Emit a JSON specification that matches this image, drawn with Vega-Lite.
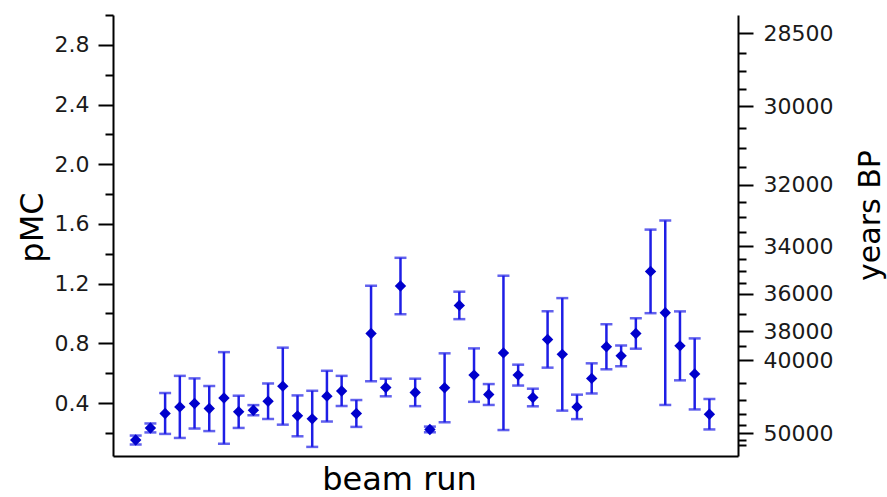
{
  "$schema": "https://vega.github.io/schema/vega-lite/v6.json",
  "width": 625,
  "height": 441,
  "autosize": {"type": "none"},
  "padding": {"left": 113, "top": 15, "right": 149, "bottom": 41},
  "background": "white",
  "config": {
    "view": {"stroke": null},
    "font": "DejaVu Sans",
    "axis": {"grid": false, "domainColor": "black", "domainWidth": 2, "tickColor": "black", "tickWidth": 2, "labelColor": "#1a1a1a", "labelFont": "DejaVu Sans", "labelFontSize": 22, "titleFont": "DejaVu Sans", "titleFontWeight": "normal", "titleColor": "black", "labelOverlap": false, "labelFlush": false, "labelBound": false}
  },
  "data": {
    "values": [
      {"run": 1, "pmc": 0.152, "err": 0.030},
      {"run": 2, "pmc": 0.233, "err": 0.030},
      {"run": 3, "pmc": 0.330, "err": 0.137},
      {"run": 4, "pmc": 0.374, "err": 0.208},
      {"run": 5, "pmc": 0.397, "err": 0.168},
      {"run": 6, "pmc": 0.363, "err": 0.151},
      {"run": 7, "pmc": 0.434, "err": 0.307},
      {"run": 8, "pmc": 0.341, "err": 0.108},
      {"run": 9, "pmc": 0.352, "err": 0.034},
      {"run": 10, "pmc": 0.412, "err": 0.119},
      {"run": 11, "pmc": 0.513, "err": 0.258},
      {"run": 12, "pmc": 0.314, "err": 0.137},
      {"run": 13, "pmc": 0.294, "err": 0.188},
      {"run": 14, "pmc": 0.446, "err": 0.170},
      {"run": 15, "pmc": 0.481, "err": 0.101},
      {"run": 16, "pmc": 0.330, "err": 0.090},
      {"run": 17, "pmc": 0.866, "err": 0.320},
      {"run": 18, "pmc": 0.504, "err": 0.059},
      {"run": 19, "pmc": 1.184, "err": 0.189},
      {"run": 20, "pmc": 0.471, "err": 0.092},
      {"run": 21, "pmc": 0.223, "err": 0.019},
      {"run": 22, "pmc": 0.502, "err": 0.231},
      {"run": 23, "pmc": 1.054, "err": 0.092},
      {"run": 24, "pmc": 0.587, "err": 0.179},
      {"run": 25, "pmc": 0.457, "err": 0.070},
      {"run": 26, "pmc": 0.736, "err": 0.517},
      {"run": 27, "pmc": 0.587, "err": 0.070},
      {"run": 28, "pmc": 0.437, "err": 0.059},
      {"run": 29, "pmc": 0.826, "err": 0.189},
      {"run": 30, "pmc": 0.726, "err": 0.377},
      {"run": 31, "pmc": 0.374, "err": 0.082},
      {"run": 32, "pmc": 0.565, "err": 0.101},
      {"run": 33, "pmc": 0.777, "err": 0.151},
      {"run": 34, "pmc": 0.716, "err": 0.069},
      {"run": 35, "pmc": 0.866, "err": 0.102},
      {"run": 36, "pmc": 1.282, "err": 0.280},
      {"run": 37, "pmc": 1.005, "err": 0.618},
      {"run": 38, "pmc": 0.783, "err": 0.231},
      {"run": 39, "pmc": 0.595, "err": 0.238},
      {"run": 40, "pmc": 0.325, "err": 0.102}
    ]
  },
  "layer": [
    {
      "mark": {"type": "errorbar", "color": "#1E1EE6", "thickness": 2.5, "size": 12, "rule": {"strokeWidth": 2.5}, "ticks": {"thickness": 2.5, "size": 12}},
      "encoding": {
        "x": {"field": "run", "type": "quantitative", "scale": {"domain": [-0.543, 41.945], "nice": false, "zero": false},
          "axis": {"title": "beam run", "ticks": false, "labels": false, "titleFontSize": 32, "titleX": 286, "titleY": 33, "titleBaseline": "alphabetic", "titleAlign": "center"}},
        "y": {"field": "pmc", "type": "quantitative", "scale": {"domain": [0.045, 3.0], "nice": false, "zero": false},
          "axis": {"title": "pMC", "orient": "left",
            "values": [0.2, 0.4, 0.6, 0.8, 1.0, 1.2, 1.4, 1.6, 1.8, 2.0, 2.2, 2.4, 2.6, 2.8, 3.0],
            "labelExpr": "round(datum.value*10) % 4 == 0 ? format(datum.value, '.1f') : ''",
            "tickSize": {"condition": {"test": "round(datum.value*10) % 4 == 0", "value": 15}, "value": 8},
            "labelPadding": 9,
            "titleFontSize": 32, "titleX": -71, "titleY": 212, "titleAngle": -90, "titleBaseline": "alphabetic", "titleAlign": "center"}},
        "yError": {"field": "err"}
      }
    },
    {
      "mark": {"type": "point", "shape": "diamond", "filled": true, "size": 130, "color": "#0000CC", "opacity": 1},
      "encoding": {
        "x": {"field": "run", "type": "quantitative", "scale": {"domain": [-0.543, 41.945], "nice": false, "zero": false}},
        "y": {"field": "pmc", "type": "quantitative", "scale": {"domain": [0.045, 3.0], "nice": false, "zero": false},
          "axis": {"title": "years BP", "orient": "right",
            "values": [2.8786, 2.7473, 2.6220, 2.5024, 2.3883, 2.2442, 2.1087, 1.9815, 1.8619, 1.7496, 1.6440, 1.5448, 1.4516, 1.3640, 1.2816, 1.2043, 1.1316, 0.9992, 0.8822, 0.7790, 0.6878, 0.5362, 0.4180, 0.3259, 0.2541, 0.1981, 0.1544, 0.1204],
            "labelExpr": "datum.value == 2.8786 ? '28500' : datum.value == 2.3883 ? '30000' : datum.value == 1.8619 ? '32000' : datum.value == 1.4516 ? '34000' : datum.value == 1.1316 ? '36000' : datum.value == 0.8822 ? '38000' : datum.value == 0.6878 ? '40000' : datum.value == 0.1981 ? '50000' : ''",
            "tickSize": {"condition": {"test": "indexof([2.8786, 2.3883, 1.8619, 1.4516, 1.1316, 0.8822, 0.6878, 0.1981], datum.value) >= 0", "value": 15}, "value": 8},
            "labelPadding": 10,
            "titleFontSize": 30, "titleX": 141, "titleY": 200, "titleAngle": -90, "titleBaseline": "alphabetic", "titleAlign": "center"}}
      }
    }
  ],
  "resolve": {"scale": {"y": "independent"}, "axis": {"y": "independent"}}
}
